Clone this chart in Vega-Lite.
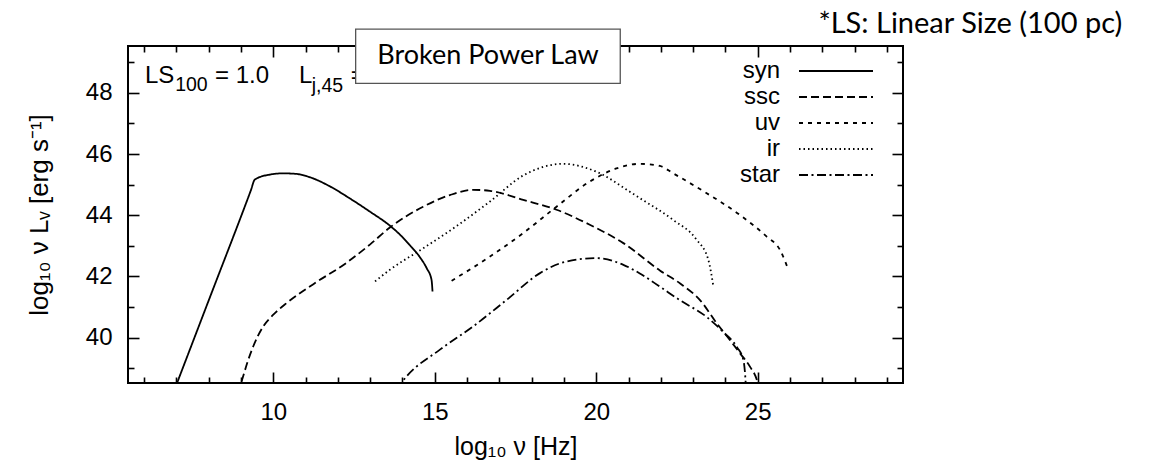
{
  "$schema": "https://vega.github.io/schema/vega-lite/v6.json",
  "width": 775,
  "height": 337,
  "autosize": {"type": "none"},
  "padding": {"left": 128, "top": 46, "right": 250, "bottom": 82},
  "background": "white",
  "config": {
    "view": {"stroke": "black", "strokeWidth": 2},
    "font": "Liberation Sans",
    "axis": {
      "domain": false, "grid": false, "tickColor": "black", "tickWidth": 1.6,
      "labelColor": "black", "labelFont": "Liberation Sans", "labelFontSize": 24,
      "titleFont": "Liberation Sans", "titleFontSize": 25, "titleFontWeight": "normal", "titleColor": "black",
      "labelFlush": false, "labelOverlap": false
    },
    "text": {"font": "Liberation Sans", "color": "black", "baseline": "alphabetic", "align": "left"}
  },
  "resolve": {"axis": {"x": "independent", "y": "independent"}},
  "layer": [
    {
      "data": {"values": [
        {"s": "syn", "nu": 6.83, "L": 38.0},
        {"s": "syn", "nu": 8.0, "L": 41.22},
        {"s": "syn", "nu": 9.3, "L": 44.8},
        {"s": "syn", "nu": 9.43, "L": 45.17},
        {"s": "syn", "nu": 9.9, "L": 45.33},
        {"s": "syn", "nu": 10.31, "L": 45.37},
        {"s": "syn", "nu": 10.72, "L": 45.35},
        {"s": "syn", "nu": 11.14, "L": 45.24},
        {"s": "syn", "nu": 11.76, "L": 44.94},
        {"s": "syn", "nu": 12.37, "L": 44.55},
        {"s": "syn", "nu": 12.99, "L": 44.12},
        {"s": "syn", "nu": 13.61, "L": 43.66},
        {"s": "syn", "nu": 13.92, "L": 43.37},
        {"s": "syn", "nu": 14.23, "L": 43.02},
        {"s": "syn", "nu": 14.54, "L": 42.63},
        {"s": "syn", "nu": 14.75, "L": 42.27},
        {"s": "syn", "nu": 14.9, "L": 41.89},
        {"s": "syn", "nu": 14.93, "L": 41.51},
        {"s": "ssc", "nu": 8.9, "L": 38.2},
        {"s": "ssc", "nu": 9.02, "L": 38.58},
        {"s": "ssc", "nu": 9.2, "L": 39.2},
        {"s": "ssc", "nu": 9.38, "L": 39.72},
        {"s": "ssc", "nu": 9.69, "L": 40.37},
        {"s": "ssc", "nu": 10.0, "L": 40.75},
        {"s": "ssc", "nu": 10.41, "L": 41.13},
        {"s": "ssc", "nu": 11.24, "L": 41.75},
        {"s": "ssc", "nu": 12.27, "L": 42.45},
        {"s": "ssc", "nu": 13.0, "L": 43.05},
        {"s": "ssc", "nu": 13.61, "L": 43.6},
        {"s": "ssc", "nu": 14.64, "L": 44.28},
        {"s": "ssc", "nu": 15.47, "L": 44.66},
        {"s": "ssc", "nu": 16.19, "L": 44.83},
        {"s": "ssc", "nu": 16.71, "L": 44.8},
        {"s": "ssc", "nu": 17.74, "L": 44.5},
        {"s": "ssc", "nu": 18.77, "L": 44.18},
        {"s": "ssc", "nu": 19.8, "L": 43.69},
        {"s": "ssc", "nu": 20.84, "L": 43.09},
        {"s": "ssc", "nu": 21.98, "L": 42.19},
        {"s": "ssc", "nu": 22.6, "L": 41.77},
        {"s": "ssc", "nu": 23.22, "L": 41.22},
        {"s": "ssc", "nu": 23.74, "L": 40.46},
        {"s": "ssc", "nu": 24.15, "L": 39.91},
        {"s": "ssc", "nu": 24.46, "L": 39.48},
        {"s": "ssc", "nu": 24.77, "L": 39.04},
        {"s": "ssc", "nu": 24.98, "L": 38.6},
        {"s": "ssc", "nu": 25.05, "L": 38.3},
        {"s": "uv", "nu": 15.52, "L": 41.86},
        {"s": "uv", "nu": 16.71, "L": 42.65},
        {"s": "uv", "nu": 17.74, "L": 43.42},
        {"s": "uv", "nu": 18.77, "L": 44.28},
        {"s": "uv", "nu": 19.8, "L": 45.1},
        {"s": "uv", "nu": 20.63, "L": 45.53},
        {"s": "uv", "nu": 21.35, "L": 45.68},
        {"s": "uv", "nu": 21.97, "L": 45.61},
        {"s": "uv", "nu": 22.38, "L": 45.37},
        {"s": "uv", "nu": 23.42, "L": 44.72},
        {"s": "uv", "nu": 24.45, "L": 44.01},
        {"s": "uv", "nu": 25.28, "L": 43.3},
        {"s": "uv", "nu": 25.69, "L": 42.87},
        {"s": "uv", "nu": 25.95, "L": 42.22},
        {"s": "ir", "nu": 13.15, "L": 41.84},
        {"s": "ir", "nu": 13.61, "L": 42.22},
        {"s": "ir", "nu": 14.64, "L": 42.92},
        {"s": "ir", "nu": 15.68, "L": 43.65},
        {"s": "ir", "nu": 16.71, "L": 44.45},
        {"s": "ir", "nu": 17.74, "L": 45.3},
        {"s": "ir", "nu": 18.98, "L": 45.68},
        {"s": "ir", "nu": 20.01, "L": 45.42},
        {"s": "ir", "nu": 21.04, "L": 44.77},
        {"s": "ir", "nu": 21.35, "L": 44.56},
        {"s": "ir", "nu": 22.38, "L": 43.85},
        {"s": "ir", "nu": 23.11, "L": 43.2},
        {"s": "ir", "nu": 23.47, "L": 42.55},
        {"s": "ir", "nu": 23.62, "L": 41.73},
        {"s": "star", "nu": 13.8, "L": 38.3},
        {"s": "star", "nu": 14.13, "L": 38.74},
        {"s": "star", "nu": 15.16, "L": 39.61},
        {"s": "star", "nu": 16.19, "L": 40.37},
        {"s": "star", "nu": 17.23, "L": 41.24},
        {"s": "star", "nu": 18.26, "L": 42.11},
        {"s": "star", "nu": 19.08, "L": 42.49},
        {"s": "star", "nu": 20.01, "L": 42.6},
        {"s": "star", "nu": 20.84, "L": 42.38},
        {"s": "star", "nu": 21.35, "L": 42.1},
        {"s": "star", "nu": 21.98, "L": 41.66},
        {"s": "star", "nu": 22.6, "L": 41.22},
        {"s": "star", "nu": 23.43, "L": 40.67},
        {"s": "star", "nu": 23.94, "L": 40.18},
        {"s": "star", "nu": 24.36, "L": 39.69},
        {"s": "star", "nu": 24.56, "L": 39.26},
        {"s": "star", "nu": 24.62, "L": 38.66},
        {"s": "star", "nu": 24.64, "L": 38.3}
      ]},
      "mark": {"type": "line", "color": "black", "strokeWidth": 1.8, "clip": true, "interpolate": "monotone"},
      "encoding": {
        "x": {"field": "nu", "type": "quantitative",
          "scale": {"domain": [5.5, 29.5], "nice": false, "zero": false},
          "axis": {"orient": "bottom", "values": [10, 15, 20, 25], "tickSize": -11, "labelPadding": 28, "title": "log₁₀ ν [Hz]", "titlePadding": 10}},
        "y": {"field": "L", "type": "quantitative",
          "scale": {"domain": [38.52, 49.53], "nice": false, "zero": false},
          "axis": {"orient": "left", "values": [40, 42, 44, 46, 48], "tickSize": -11, "labelPadding": 27, "title": "log₁₀ ν Lᵥ [erg s⁻¹]", "titlePadding": 33, "titleFontSize": 26}},
        "strokeDash": {"field": "s", "type": "nominal",
          "scale": {"domain": ["syn", "ssc", "uv", "ir", "star"], "range": [[1, 0], [8, 4], [4, 5], [1.5, 3], [9, 3.5, 2, 3.5]]},
          "legend": {
            "title": null, "orient": "none", "legendX": 696, "legendY": 13, "padding": 0,
            "symbolType": "M-3.7,0H3.7", "symbolSize": 400, "symbolStrokeWidth": 1.8, "symbolStrokeColor": "black", "symbolOffset": 0,
            "labelFont": "Liberation Sans", "labelFontSize": 24, "labelColor": "black", "rowPadding": 2,
            "encode": {"labels": {"update": {"x": {"value": -44}, "align": {"value": "right"}}}}
          }}
      }
    },
    {
      "data": {"values": [{"note": "LS"}]},
      "mark": {"type": "text", "text": "LS", "fontSize": 24},
      "encoding": {
        "x": {"datum": 6.024, "type": "quantitative", "scale": {"domain": [5.5, 29.5], "nice": false, "zero": false},
          "axis": {"orient": "top", "values": [10, 15, 20, 25], "tickSize": -11, "labels": false, "title": null}},
        "y": {"datum": 48.307, "type": "quantitative", "scale": {"domain": [38.52, 49.53], "nice": false, "zero": false},
          "axis": {"orient": "right", "values": [40, 42, 44, 46, 48], "tickSize": -11, "labels": false, "title": null}}
      }
    },
    {
      "data": {"values": [{"note": "LS subscript"}]},
      "mark": {"type": "text", "text": "100", "fontSize": 19.5},
      "encoding": {
        "x": {"datum": 6.96, "type": "quantitative", "scale": {"domain": [5.5, 29.5], "nice": false, "zero": false}, "axis": null},
        "y": {"datum": 48.065, "type": "quantitative", "scale": {"domain": [38.52, 49.53], "nice": false, "zero": false}, "axis": null}
      }
    },
    {
      "data": {"values": [{"note": "LS value"}]},
      "mark": {"type": "text", "text": "= 1.0", "fontSize": 24},
      "encoding": {
        "x": {"datum": 8.193, "type": "quantitative", "scale": {"domain": [5.5, 29.5], "nice": false, "zero": false}, "axis": null},
        "y": {"datum": 48.307, "type": "quantitative", "scale": {"domain": [38.52, 49.53], "nice": false, "zero": false}, "axis": null}
      }
    },
    {
      "data": {"values": [{"note": "Lj"}]},
      "mark": {"type": "text", "text": "L", "fontSize": 24},
      "encoding": {
        "x": {"datum": 10.796, "type": "quantitative", "scale": {"domain": [5.5, 29.5], "nice": false, "zero": false}, "axis": null},
        "y": {"datum": 48.307, "type": "quantitative", "scale": {"domain": [38.52, 49.53], "nice": false, "zero": false}, "axis": null}
      }
    },
    {
      "data": {"values": [{"note": "Lj subscript"}]},
      "mark": {"type": "text", "text": "j,45", "fontSize": 19.5},
      "encoding": {
        "x": {"datum": 11.19, "type": "quantitative", "scale": {"domain": [5.5, 29.5], "nice": false, "zero": false}, "axis": null},
        "y": {"datum": 48.033, "type": "quantitative", "scale": {"domain": [38.52, 49.53], "nice": false, "zero": false}, "axis": null}
      }
    },
    {
      "data": {"values": [{"note": "Lj equals"}]},
      "mark": {"type": "text", "text": "=", "fontSize": 24},
      "encoding": {
        "x": {"datum": 12.4, "type": "quantitative", "scale": {"domain": [5.5, 29.5], "nice": false, "zero": false}, "axis": null},
        "y": {"datum": 48.307, "type": "quantitative", "scale": {"domain": [38.52, 49.53], "nice": false, "zero": false}, "axis": null}
      }
    },
    {
      "data": {"values": [{"note": "box"}]},
      "mark": {"type": "rect", "fill": "white", "stroke": "#555555", "strokeWidth": 1.3},
      "encoding": {
        "x": {"datum": 12.55, "type": "quantitative", "scale": {"domain": [5.5, 29.5], "nice": false, "zero": false},
          "axis": {"orient": "bottom", "values": [6,7,8,9,11,12,13,14,16,17,18,19,21,22,23,24,26,27,28,29], "tickSize": -6, "labels": false, "title": null}},
        "x2": {"datum": 20.744},
        "y": {"datum": 50.083, "type": "quantitative", "scale": {"domain": [38.52, 49.53], "nice": false, "zero": false},
          "axis": {"orient": "left", "values": [39, 41, 43, 45, 47, 49], "tickSize": -6, "labels": false, "title": null}},
        "y2": {"datum": 48.307}
      }
    },
    {
      "data": {"values": [{"note": "title"}]},
      "mark": {"type": "text", "text": "Broken Power Law", "align": "center", "baseline": "middle", "font": "Lato", "fontSize": 27},
      "encoding": {
        "x": {"datum": 16.65, "type": "quantitative", "scale": {"domain": [5.5, 29.5], "nice": false, "zero": false},
          "axis": {"orient": "top", "values": [6,7,8,9,11,12,13,14,16,17,18,19,21,22,23,24,26,27,28,29], "tickSize": -6, "labels": false, "title": null}},
        "y": {"datum": 49.2, "type": "quantitative", "scale": {"domain": [38.52, 49.53], "nice": false, "zero": false},
          "axis": {"orient": "right", "values": [39, 41, 43, 45, 47, 49], "tickSize": -6, "labels": false, "title": null}}
      }
    },
    {
      "data": {"values": [{"note": "footnote"}]},
      "mark": {"type": "text", "text": "*LS: Linear Size (100 pc)", "align": "right", "font": "Lato", "fontSize": 29},
      "encoding": {
        "x": {"datum": 36.29, "type": "quantitative", "scale": {"domain": [5.5, 29.5], "nice": false, "zero": false}, "axis": null},
        "y": {"datum": 49.94, "type": "quantitative", "scale": {"domain": [38.52, 49.53], "nice": false, "zero": false}, "axis": null}
      }
    }
  ]
}
